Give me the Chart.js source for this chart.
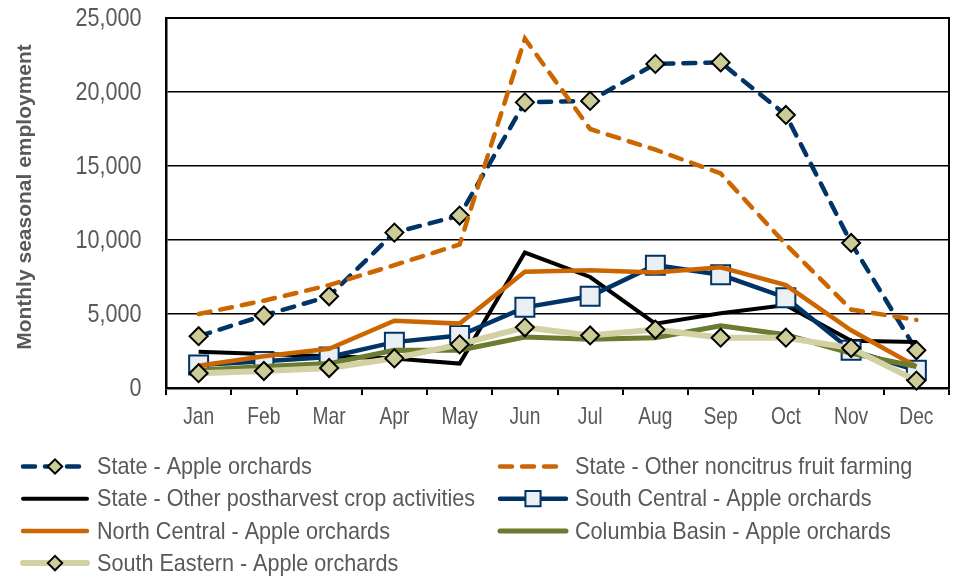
<!DOCTYPE html>
<html>
<head>
<meta charset="utf-8">
<script src="https://cdn.jsdelivr.net/npm/chart.js@4.4.1/dist/chart.umd.min.js"></script>
<style>
html, body { margin: 0; padding: 0; background: #ffffff; }
#wrap { width: 955px; height: 577px; }
</style>
</head>
<body>
<div id="wrap"><canvas id="c" width="955" height="577"></canvas></div>
<script>
const months = ['Jan', 'Feb', 'Mar', 'Apr', 'May', 'Jun', 'Jul', 'Aug', 'Sep', 'Oct', 'Nov', 'Dec'];
const yTicks = [0, 5000, 10000, 15000, 20000, 25000];
const yTitle = 'Monthly seasonal employment';
const seriesNames = [
  'State - Apple orchards',
  'State - Other noncitrus fruit farming',
  'State - Other postharvest crop activities',
  'South Central - Apple orchards',
  'North Central - Apple orchards',
  'Columbia Basin - Apple orchards',
  'South Eastern - Apple orchards'
];
const stateApple       = [3500, 4900, 6200, 10500, 11650, 19300, 19400, 21900, 22000, 18450, 9800, 2550];
const stateNoncitrus   = [5000, 5900, 6950, 8300, 9700, 23600, 17500, 16100, 14500, 9700, 5300, 4600];
const statePostharvest = [2450, 2300, 2150, 2000, 1650, 9150, 7500, 4350, 5050, 5600, 3200, 3100];
const southCentral     = [1550, 1800, 2100, 3100, 3550, 5450, 6200, 8300, 7650, 6100, 2550, 1200];
const northCentral     = [1500, 2150, 2650, 4550, 4350, 7850, 7950, 7800, 8150, 6950, 3900, 1450];
const columbiaBasin    = [1200, 1450, 1650, 2550, 2550, 3450, 3300, 3400, 4200, 3600, 2350, 1450];
const southEastern     = [1000, 1150, 1350, 2000, 2950, 4100, 3550, 3950, 3400, 3400, 2700, 500];

const NAVY = '#003366', ORANGE = '#cc6600', OLIVE = '#6b7b2f', KHAKI = '#d1d1a3', KHAKI_FILL = '#cccc99';
const GREY = '#595959';
const SANS = '"Liberation Sans", Arial, sans-serif';

function ds(i, data, style) {
  return Object.assign({
    label: seriesNames[i],
    data: data,
    fill: false,
    tension: 0,
    pointRadius: 0,
    pointHoverRadius: 0,
    order: 10 - i,
    clip: false
  }, style);
}

const datasets = [
  ds(0, stateApple, { borderColor: NAVY, borderWidth: 4.5, borderDash: [12, 10], borderCapStyle: 'round',
    pointStyle: 'rectRot', pointRadius: 9, pointBackgroundColor: KHAKI_FILL, pointBorderColor: '#000', pointBorderWidth: 2 }),
  ds(1, stateNoncitrus, { borderColor: ORANGE, borderWidth: 4.5, borderDash: [12, 10], borderCapStyle: 'round' }),
  ds(2, statePostharvest, { borderColor: '#000000', borderWidth: 4 }),
  ds(3, southCentral, { borderColor: NAVY, borderWidth: 4.5,
    pointStyle: 'rect', pointRadius: 13.4, pointBackgroundColor: '#e9eff3', pointBorderColor: NAVY, pointBorderWidth: 2 }),
  ds(4, northCentral, { borderColor: ORANGE, borderWidth: 4.5 }),
  ds(5, columbiaBasin, { borderColor: OLIVE, borderWidth: 5 }),
  ds(6, southEastern, { borderColor: KHAKI, borderWidth: 6,
    pointStyle: 'rectRot', pointRadius: 9, pointBackgroundColor: KHAKI_FILL, pointBorderColor: '#000', pointBorderWidth: 2 })
];

// condensed text helper (mimics a narrow typeface)
function narrowText(ctx, text, x, y, size, sx, align) {
  ctx.save();
  ctx.translate(x, y);
  ctx.scale(sx, 1);
  ctx.font = size + 'px ' + SANS;
  ctx.fillStyle = GREY;
  ctx.textAlign = align;
  ctx.textBaseline = 'middle';
  ctx.fillText(text, 0, 0);
  ctx.restore();
}

const framePlugin = {
  id: 'frame',
  beforeDatasetsDraw(chart) {
    const a = chart.chartArea, ctx = chart.ctx;
    ctx.save();
    ctx.strokeStyle = '#000';
    ctx.lineWidth = 2;
    ctx.beginPath();
    ctx.moveTo(a.left, a.top);
    ctx.lineTo(a.right, a.top);
    ctx.lineTo(a.right, a.bottom);
    ctx.stroke();
    ctx.restore();
  }
};

const labelsPlugin = {
  id: 'axisLabels',
  afterDraw(chart) {
    const ctx = chart.ctx, xs = chart.scales.x, ys = chart.scales.y;
    yTicks.forEach(v => {
      narrowText(ctx, v.toLocaleString('en-US'), xs.left - 24.5, ys.getPixelForValue(v) + 1, 26, 0.83, 'right');
    });
    months.forEach((m, i) => {
      narrowText(ctx, m, xs.getPixelForTick(i), ys.bottom + 29, 24, 0.8, 'center');
    });
    ctx.save();
    ctx.translate(25, 197);
    ctx.rotate(-Math.PI / 2);
    ctx.font = 'bold 21px ' + SANS;
    ctx.fillStyle = GREY;
    ctx.textAlign = 'center';
    ctx.textBaseline = 'middle';
    ctx.fillText(yTitle, 0, 0);
    ctx.restore();
  }
};

const legendPlugin = {
  id: 'customLegend',
  afterDraw(chart) {
    const ctx = chart.ctx;
    const cols = [{ x0: 20, x1: 90, tx: 97 }, { x0: 497, x1: 569, tx: 575 }];
    chart.data.datasets.forEach((d, i) => {
      const c = cols[i % 2];
      const y = 466.5 + Math.floor(i / 2) * 32.2;
      ctx.save();
      ctx.strokeStyle = d.borderColor;
      ctx.lineWidth = d.borderWidth;
      ctx.lineCap = 'round';
      ctx.setLineDash(d.borderDash || []);
      ctx.lineDashOffset = 0;
      ctx.beginPath();
      ctx.moveTo(c.x0 + 3, y);
      ctx.lineTo(c.x1 - 3, y);
      ctx.stroke();
      ctx.setLineDash([]);
      if (d.pointRadius > 0) {
        ctx.fillStyle = d.pointBackgroundColor;
        ctx.strokeStyle = d.pointBorderColor;
        ctx.lineWidth = d.pointBorderWidth;
        Chart.helpers.drawPoint(ctx, { pointStyle: d.pointStyle, rotation: 0, radius: d.pointRadius * 0.8, borderWidth: d.pointBorderWidth }, (c.x0 + c.x1) / 2, y);
      }
      ctx.restore();
      narrowText(ctx, d.label, c.tx, y + 1, 24, 0.9, 'left');
    });
  }
};

new Chart(document.getElementById('c'), {
  type: 'line',
  data: { labels: months, datasets: datasets },
  options: {
    responsive: false,
    animation: false,
    events: [],
    layout: { autoPadding: false, padding: { left: 0, right: 6, top: 18, bottom: 139 } },
    plugins: { legend: { display: false }, tooltip: { enabled: false } },
    scales: {
      x: {
        offset: true,
        afterFit(s) { s.height = 50; },
        grid: { offset: true, drawOnChartArea: false, drawTicks: true, tickLength: 7, color: '#000', lineWidth: 2 },
        border: { display: true, color: '#000', width: 2.5 },
        ticks: { display: false, autoSkip: false }
      },
      y: {
        min: 0, max: 25000,
        afterFit(s) { s.width = 166; },
        afterBuildTicks(s) { s.ticks = yTicks.map(v => ({ value: v })); },
        grid: { color: '#000', lineWidth: 1.5, drawTicks: false },
        border: { display: true, color: '#000', width: 2.5 },
        ticks: { display: false }
      }
    }
  },
  plugins: [framePlugin, labelsPlugin, legendPlugin]
});
</script>
</body>
</html>
